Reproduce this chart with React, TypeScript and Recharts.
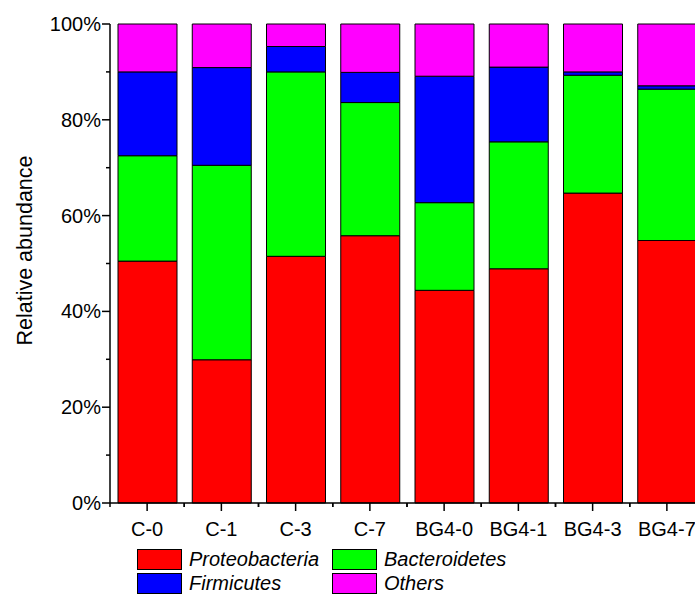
import { BarChart, Bar, XAxis, YAxis } from "recharts";

const categories = ["C-0", "C-1", "C-3", "C-7", "BG4-0", "BG4-1", "BG4-3", "BG4-7"];
const proteobacteria = [50.5, 29.9, 51.5, 55.8, 44.4, 48.9, 64.7, 54.8];
const bacteroidetes = [22.0, 40.6, 38.5, 27.8, 18.3, 26.5, 24.6, 31.6];
const firmicutes = [17.5, 20.4, 5.3, 6.3, 26.4, 15.6, 0.7, 0.7];
const others = [10.0, 9.1, 4.7, 10.1, 10.9, 9.0, 10.0, 12.9];
const yTicks = [0, 10, 20, 30, 40, 50, 60, 70, 80, 90, 100];

const series = [
  { key: "proteobacteria", name: "Proteobacteria", color: "#FF0000" },
  { key: "bacteroidetes", name: "Bacteroidetes", color: "#00FF00" },
  { key: "firmicutes", name: "Firmicutes", color: "#0000FF" },
  { key: "others", name: "Others", color: "#FF00FF" },
];

const data = categories.map((name, i) => ({
  name,
  proteobacteria: proteobacteria[i],
  bacteroidetes: bacteroidetes[i],
  firmicutes: firmicutes[i],
  others: others[i],
}));

const FONT = "'Liberation Sans', Arial, sans-serif";
const CHART_W = 712;
const CHART_H = 595;
const Y_AXIS_W = 110;
const MARGIN_RIGHT = 8;
const PLOT_W = CHART_W - Y_AXIS_W - MARGIN_RIGHT;
const BAND = PLOT_W / categories.length;

// y ticks: long ticks with labels every 20%, short ticks in between
function YTick(props: any) {
  const { x, y, payload } = props;
  const major = payload.value % 20 === 0;
  return (
    <g>
      <line x1={x - (major ? 8 : 4)} x2={x} y1={y} y2={y} stroke="#000" strokeWidth={1.5} />
      {major && (
        <text x={x - 9} y={y} dy="0.35em" textAnchor="end" fontSize={20} fontFamily={FONT} fill="#000">
          {payload.value}%
        </text>
      )}
    </g>
  );
}

// x ticks: long tick at the category centre, short ticks at band edges
function XTick(props: any) {
  const { x, y, payload } = props;
  const half = BAND / 2;
  return (
    <g>
      <line x1={x} x2={x} y1={y} y2={y + 8} stroke="#000" strokeWidth={1.5} />
      <line x1={x - half} x2={x - half} y1={y} y2={y + 4} stroke="#000" strokeWidth={1.5} />
      <line x1={x + half} x2={x + half} y1={y} y2={y + 4} stroke="#000" strokeWidth={1.5} />
      <text x={x} y={y + 33} textAnchor="middle" fontSize={20} fontFamily={FONT} fill="#000">
        {payload.value}
      </text>
    </g>
  );
}

function YTitle(props: any) {
  const vb = props.viewBox || { x: 0, y: 24, width: 110, height: 479 };
  const cx = vb.x + 24;
  const cy = vb.y + vb.height / 2 - 13;
  return (
    <text
      x={cx}
      y={cy}
      dy="0.35em"
      textAnchor="middle"
      transform={`rotate(-90, ${cx}, ${cy})`}
      fontSize={21.5}
      fontFamily={FONT}
      fill="#000"
    >
      Relative abundance
    </text>
  );
}

export default function App() {
  return (
    <div
      style={{
        position: "fixed",
        left: 0,
        top: 0,
        width: 695,
        height: 595,
        overflow: "hidden",
        background: "#fff",
      }}
    >
      <BarChart
        width={CHART_W}
        height={CHART_H}
        data={data}
        margin={{ top: 24, right: MARGIN_RIGHT, left: 0, bottom: 62 }}
        barSize={59}
      >
        <XAxis
          dataKey="name"
          height={30}
          interval={0}
          tickSize={0}
          tickMargin={0}
          tickLine={false}
          tick={<XTick />}
          axisLine={{ stroke: "#000", strokeWidth: 1.5 }}
        />
        <YAxis
          width={Y_AXIS_W}
          type="number"
          domain={[0, 100]}
          ticks={yTicks}
          interval={0}
          tickSize={0}
          tickMargin={0}
          tickLine={false}
          tick={<YTick />}
          axisLine={{ stroke: "#000", strokeWidth: 1.5 }}
          label={<YTitle />}
        />
        {series.map((s) => (
          <Bar
            key={s.key}
            dataKey={s.key}
            name={s.name}
            stackId="a"
            fill={s.color}
            stroke="#000"
            strokeWidth={1}
            isAnimationActive={false}
          />
        ))}
      </BarChart>
      <div
        style={{
          position: "absolute",
          left: 137,
          top: 549,
          display: "grid",
          gridTemplateColumns: "195px 200px",
          rowGap: 3,
          fontFamily: FONT,
          fontSize: 20,
          fontStyle: "italic",
          lineHeight: "21px",
        }}
      >
        {series.map((s) => (
          <div key={s.key} style={{ display: "flex", alignItems: "center", height: 21 }}>
            <span
              style={{
                display: "inline-block",
                width: 43,
                height: 19,
                background: s.color,
                border: "1px solid #000",
                marginRight: 7,
              }}
            />
            <span>{s.name}</span>
          </div>
        ))}
      </div>
    </div>
  );
}
